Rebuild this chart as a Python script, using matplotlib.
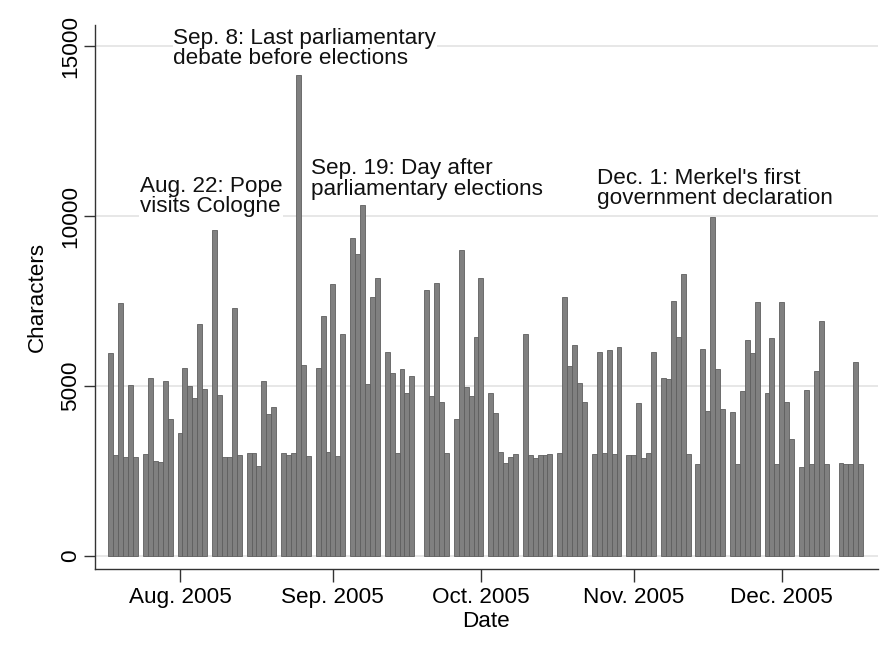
import matplotlib
matplotlib.use("Agg")
import matplotlib.pyplot as plt
import matplotlib.dates as mdates
import pandas as pd
import numpy as np

# ---- data ----
start_date = "2005-08-01"
end_date = "2005-12-31"
holidays = ["2005-10-03", "2005-12-26"]

values = [
    5980, 2970, 7450, 2920, 5020, 2920,      # Aug 1-6
    3000, 5225, 2800, 2765, 5150, 4020,      # Aug 8-13
    3630, 5530, 5000, 4640, 6810, 4910,      # Aug 15-20
    9590, 4725, 2920, 2920, 7290, 2960,      # Aug 22-27
    3020, 3020, 2660, 5150, 4170, 4390,      # Aug 29-Sep 3
    3020, 2970, 3020, 14150, 5620, 2950,     # Sep 5-10
    5520, 7070, 3070, 8000, 2950, 6520,      # Sep 12-17
    9340, 8880, 10320, 5060, 7610, 8170,     # Sep 19-24
    6010, 5370, 3020, 5490, 4800, 5290,      # Sep 26-Oct 1
    7820, 4700, 8020, 4540, 3020,            # Oct 4-8
    4020, 9000, 4960, 4700, 6450, 8170,      # Oct 10-15
    4780, 4200, 3070, 2750, 2920, 3000,      # Oct 17-22
    6520, 2970, 2890, 2970, 2970, 3000,      # Oct 24-29
    3040, 7630, 5590, 6210, 5080, 4540,      # Oct 31-Nov 5
    3000, 6010, 3040, 6060, 3000, 6160,      # Nov 7-12
    2970, 2970, 4510, 2890, 3040, 6010,      # Nov 14-19
    5250, 5220, 7510, 6430, 8290, 3000,      # Nov 21-26
    2700, 6080, 4270, 9980, 5490, 4310,      # Nov 28-Dec 3
    4250, 2700, 4850, 6350, 5980, 7480,      # Dec 5-10
    4800, 6400, 2700, 7460, 4540, 3440,      # Dec 12-17
    2630, 4880, 2700, 5450, 6910, 2700,      # Dec 19-24
    2750, 2700, 2700, 5720, 2700,            # Dec 27-31
]

tick_dates = ["2005-08-15", "2005-09-15", "2005-10-15", "2005-11-15", "2005-12-15"]
tick_labels = ["Aug. 2005", "Sep. 2005", "Oct. 2005", "Nov. 2005", "Dec. 2005"]
y_ticks = [0, 5000, 10000, 15000]

annotations = [
    ("Sep. 8: Last parliamentary\ndebate before elections", "2005-08-13 15:00", 14920),
    ("Aug. 22: Pope\nvisits Cologne", "2005-08-06 21:00", 10580),
    ("Sep. 19: Day after\nparliamentary elections", "2005-09-10 13:00", 11090),
    ("Dec. 1: Merkel's first\ngovernment declaration", "2005-11-07 12:00", 10800),
]

# ---- build dates ----
all_days = pd.date_range(start_date, end_date, freq="D")
dates = [d for d in all_days if d.dayofweek != 6 and d.strftime("%Y-%m-%d") not in holidays]
assert len(dates) == len(values), (len(dates), len(values))

plt.rcParams["font.family"] = ["Liberation Sans", "DejaVu Sans"]
FS = 16.2

fig = plt.figure(figsize=(8.85, 6.5), dpi=100, facecolor="white")
ax = fig.add_axes([95 / 885, 1 - 569 / 650, (878 - 95) / 885, (569 - 25) / 650])

xnum = mdates.date2num(dates)
ax.bar(xnum, values, width=1.0, color="#808080", edgecolor="#5f5f5f", linewidth=0.6,
       align="center", zorder=2)

x0 = mdates.date2num(pd.Timestamp("2005-08-15"))
ax.set_xlim(x0 - 17.23, x0 + 141.5)
ax.set_ylim(-382, 15618)

for yv in y_ticks:
    ax.axhline(yv, color="#e3e3e3", lw=1.2, zorder=1)

ax.set_yticks(y_ticks)
ax.set_yticklabels([str(v) for v in y_ticks], fontsize=FS, rotation=90, va="center")
ax.set_xticks(mdates.date2num(pd.to_datetime(tick_dates)))
ax.set_xticklabels(tick_labels, fontsize=FS)
ax.tick_params(axis="y", length=8, width=1, color="#333333", pad=2)
ax.tick_params(axis="x", length=9, width=1, color="#333333", pad=4)

for s in ["top", "right"]:
    ax.spines[s].set_visible(False)
for s in ["left", "bottom"]:
    ax.spines[s].set_color("#333333")
    ax.spines[s].set_linewidth(1.0)

ax.set_ylabel("Characters", fontsize=FS, labelpad=9)
ax.set_xlabel("Date", fontsize=FS, labelpad=2)

for text, xd, yv in annotations:
    ax.text(mdates.date2num(pd.Timestamp(xd)), yv, text, fontsize=FS, ha="left", va="center",
            linespacing=0.95, color="#111111", zorder=3,
            bbox=dict(facecolor="white", edgecolor="none", pad=0.5))

fig.savefig("out.png", dpi=100, facecolor="white")
